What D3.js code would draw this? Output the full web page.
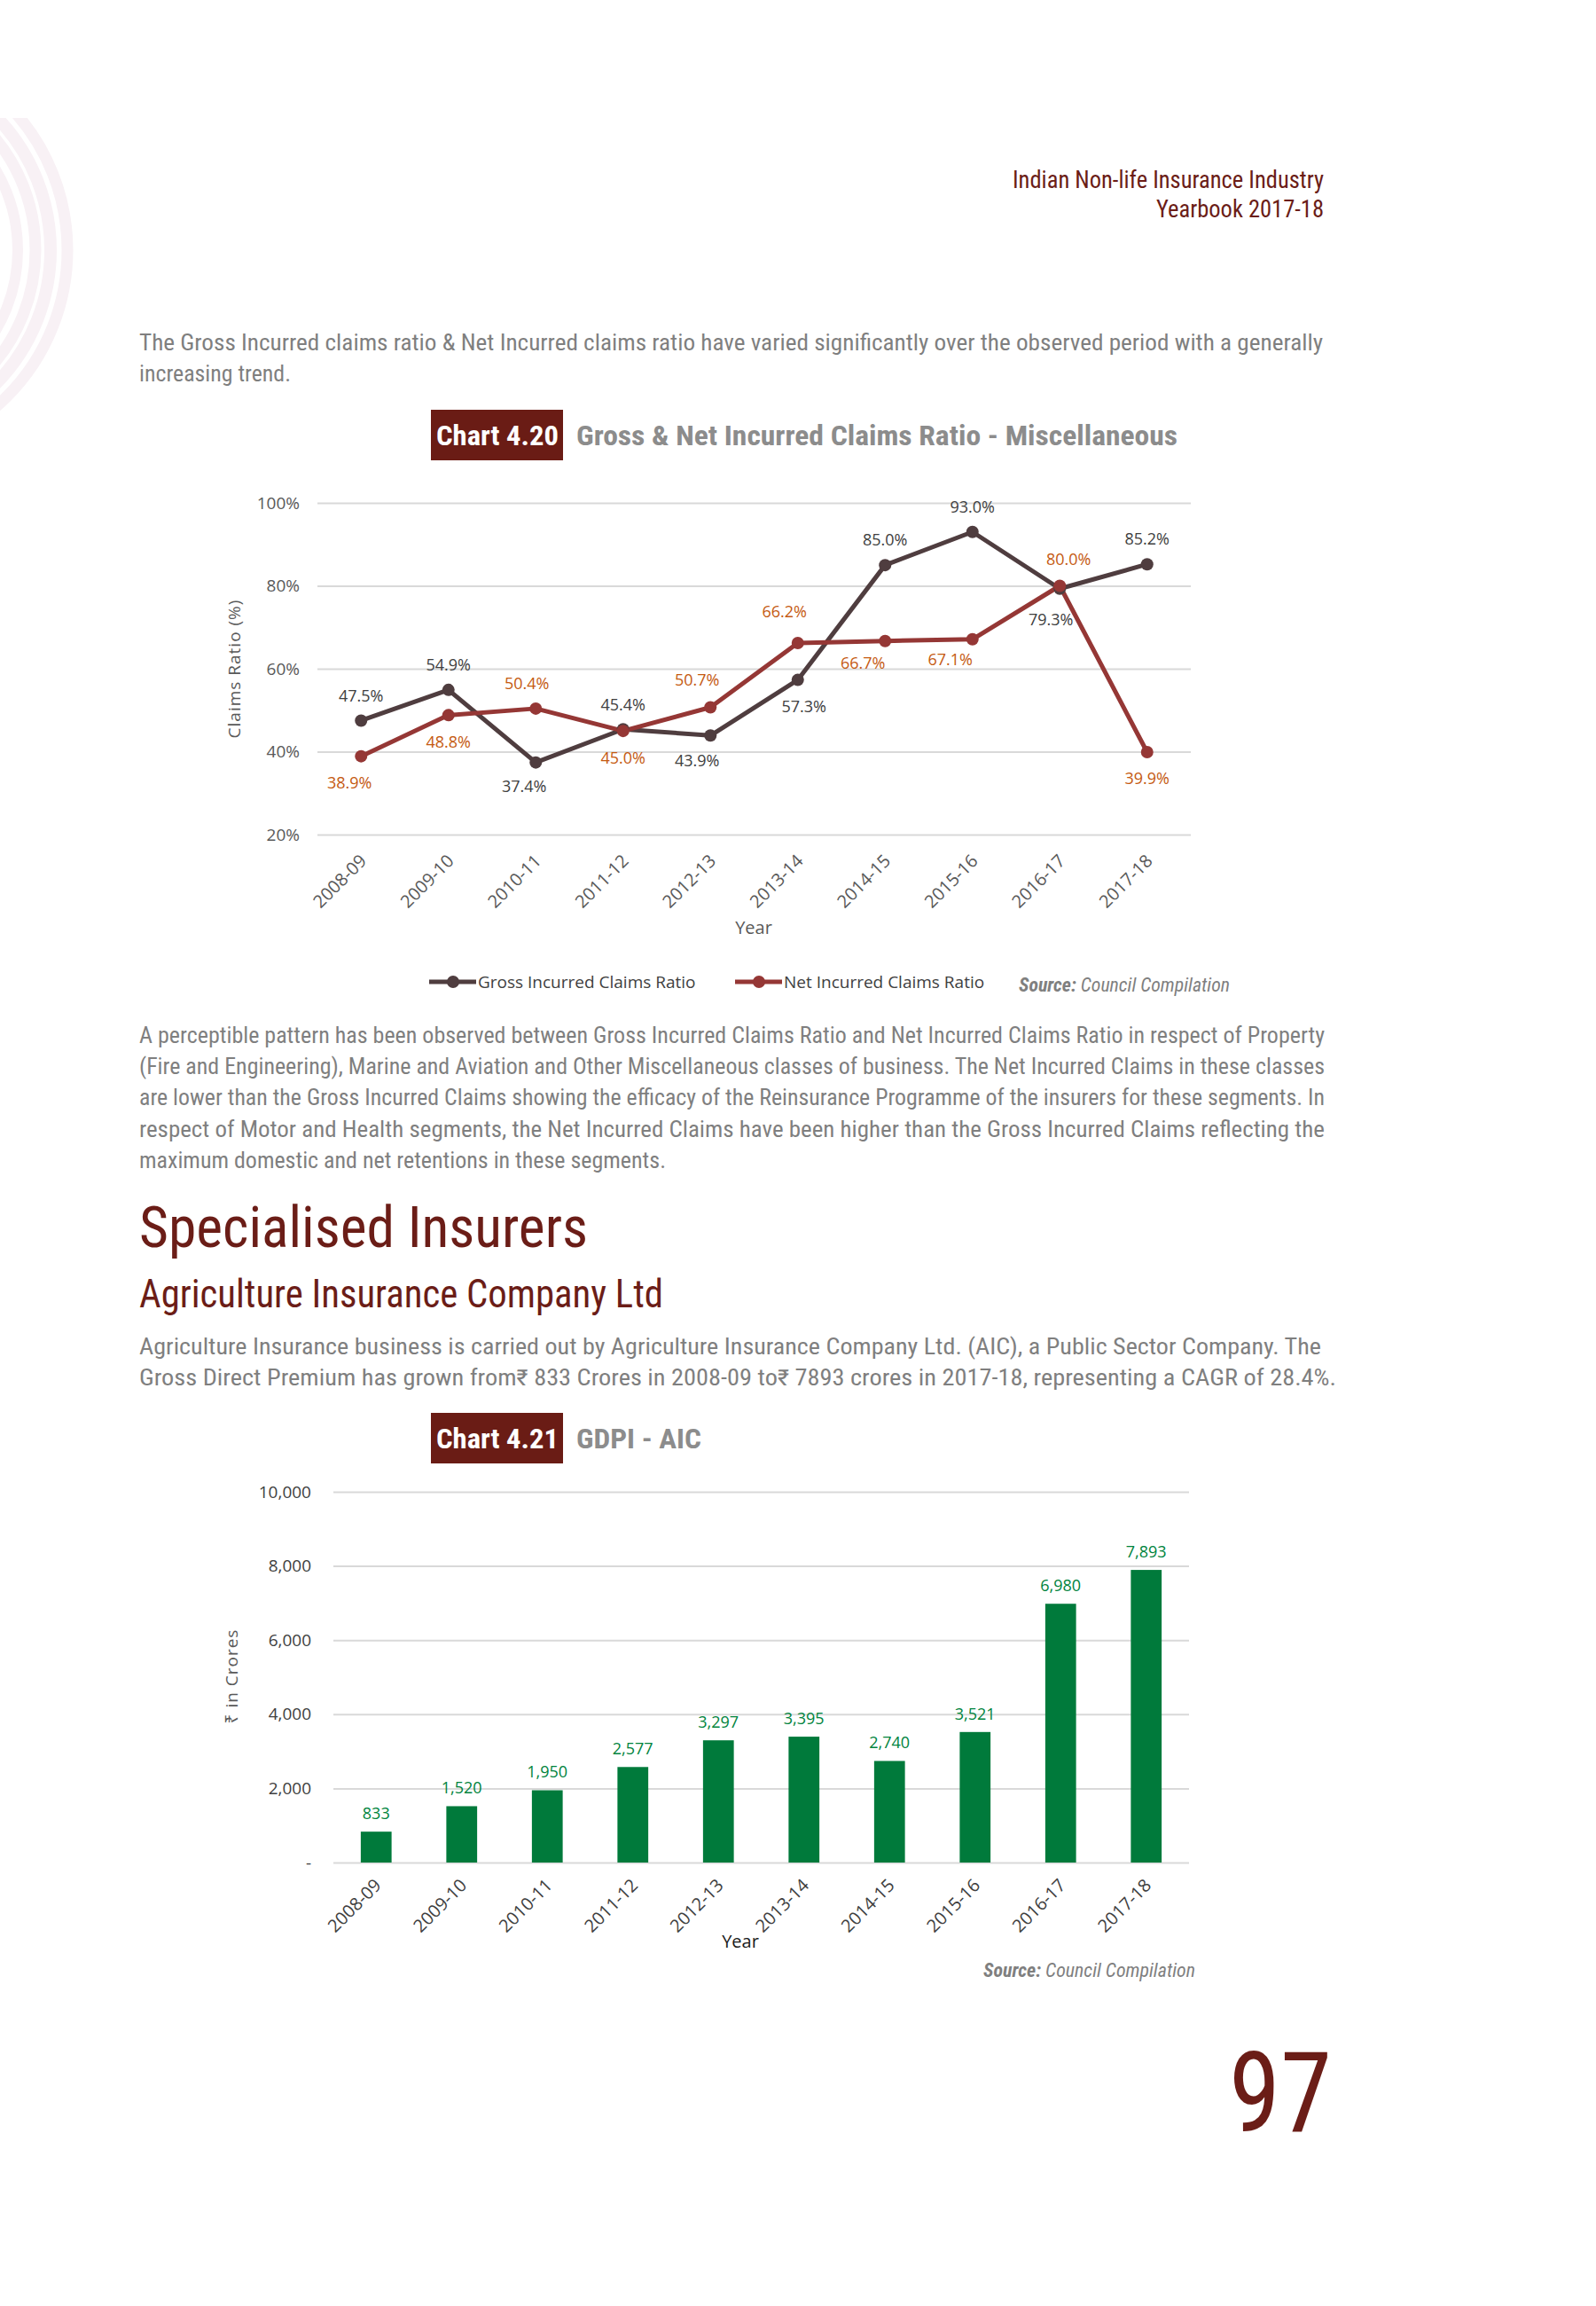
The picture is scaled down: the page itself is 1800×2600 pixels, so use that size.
<!DOCTYPE html>
<html><head><meta charset="utf-8">
<script src="https://cdn.jsdelivr.net/npm/d3@7/dist/d3.min.js"></script>
<style>
html,body{margin:0;padding:0;background:#fff;}
svg{display:block;}
</style></head>
<body>
<script>
// ---------- DATA ----------
const years = ["2008-09","2009-10","2010-11","2011-12","2012-13","2013-14","2014-15","2015-16","2016-17","2017-18"];
const grossRatio = [47.5, 54.9, 37.4, 45.4, 43.9, 57.3, 85.0, 93.0, 79.3, 85.2];
const netRatio   = [38.9, 48.8, 50.4, 45.0, 50.7, 66.2, 66.7, 67.1, 80.0, 39.9];
const ratioTicks = [20, 40, 60, 80, 100];
const gdpi = [833, 1520, 1950, 2577, 3297, 3395, 2740, 3521, 6980, 7893];
const gdpiTicks = [0, 2000, 4000, 6000, 8000, 10000];
const seriesNames = ["Gross Incurred Claims Ratio", "Net Incurred Claims Ratio"];

// label placement (layout only): [dx, dy] offsets from point
const grossLabelOff = [[0,-28],[0,-28],[-13,27],[0,-28],[-15,28],[7,30],[0,-28],[0,-28],[-10,35],[0,-28]];
const netLabelOff   = [[-13,30],[0,30],[-10,-28],[0,31],[-15,-31],[-15,-35],[-25,25],[-25,23],[10,-30],[0,30]];

const W = 1800, H = 2600;
const narrow = "'Liberation Sans Narrow','Roboto Condensed','Arial Narrow','Liberation Sans',sans-serif";
const chartFont = "'Open Sans','Noto Sans',sans-serif";
const red = "#6b1d17", grey = "#7f7f7f";

const svg = d3.select("body").append("svg").attr("width", W).attr("height", H);
svg.append("rect").attr("width", W).attr("height", H).attr("fill", "#fff");

// decorative rings top-left
const defs = svg.append("defs");
defs.append("clipPath").attr("id","decoClip").append("rect").attr("x",0).attr("y",133).attr("width",200).attr("height",400);
const deco = svg.append("g").attr("clip-path","url(#decoClip)");
[[234,13],[215,14],[198,13],[178,12]].forEach(([r,w])=>{
  deco.append("circle").attr("cx",-158).attr("cy",282).attr("r",r)
    .attr("fill","none").attr("stroke","#f8f1f5").attr("stroke-width",w);
});

// helper for text lines
function line(g, txt, x, y, opts){
  const t = g.append("text").attr("x", x).attr("y", y).text(txt)
    .attr("font-family", opts.font || narrow)
    .attr("font-size", opts.size)
    .attr("fill", opts.fill || grey)
    .attr("font-weight", opts.weight || "normal")
    .attr("font-style", opts.style || "normal")
    .attr("text-anchor", opts.anchor || "start");
  if (opts.len) t.attr("textLength", opts.len).attr("lengthAdjust", "spacingAndGlyphs");
  return t;
}

// header
line(svg, "Indian Non-life Insurance Industry", 1493, 212, {size:27, fill:red, anchor:"end", len:351});
line(svg, "Yearbook 2017-18", 1493, 245, {size:27, fill:red, anchor:"end", len:189});

// paragraph 1
line(svg, "The Gross Incurred claims ratio & Net Incurred claims ratio have varied significantly over the observed period with a generally", 157, 395, {size:25, len:1335});
line(svg, "increasing trend.", 157, 430, {size:25, len:171});

// chart title helper
function chartTitle(y0, num, title, titleLen){
  svg.append("rect").attr("x",486).attr("y",y0).attr("width",149).attr("height",57).attr("fill","#6a1c15");
  line(svg, num, 492, y0+40, {size:32, fill:"#fff", weight:"bold", len:138});
  line(svg, title, 650, y0+40, {size:32, fill:"#8c8c8c", weight:"bold", len:titleLen});
}
chartTitle(462, "Chart 4.20", "Gross & Net Incurred Claims Ratio - Miscellaneous", 678);

// ---------- CHART 1 ----------
const c1 = svg.append("g");
const x1 = d3.scalePoint().domain(years).range([358,1343]).padding(0.5);
const y1 = d3.scaleLinear().domain([20,100]).range([941,567]);

const yAxis1 = d3.axisLeft(y1).tickValues(ratioTicks).tickSize(-(1343-358)).tickFormat(d=>d+"%");
const ga1 = c1.append("g").attr("transform","translate(358,0)").call(yAxis1);
ga1.select(".domain").remove();
ga1.selectAll(".tick line").attr("stroke","#d9d9d9").attr("stroke-width",2);
ga1.selectAll(".tick text").attr("x",-20).attr("font-family",chartFont).attr("font-size",19).attr("fill","#595959");

const xAxis1 = d3.axisBottom(x1).tickSize(0);
const gx1 = c1.append("g").attr("transform","translate(0,941)").call(xAxis1);
gx1.select(".domain").remove();
gx1.selectAll(".tick text").attr("font-family",chartFont).attr("font-size",20).attr("fill","#595959")
  .attr("text-anchor","end").attr("transform","translate(2,26) rotate(-45)").attr("dy","0.35em").attr("y",0);

c1.append("text").attr("x",850).attr("y",1053).attr("text-anchor","middle").attr("font-family",chartFont)
  .attr("font-size",20).attr("fill","#595959").text("Year");
c1.append("text").attr("transform","translate(271,754) rotate(-90)").attr("text-anchor","middle")
  .attr("font-family",chartFont).attr("font-size",19).attr("letter-spacing",1).attr("fill","#595959").text("Claims Ratio (%)");

const grossCol = "#4f3d3f", netCol = "#953735";
const lineGen = d3.line().x((d,i)=>x1(years[i])).y(d=>y1(d));
[[grossRatio,grossCol],[netRatio,netCol]].forEach(([arr,col])=>{
  c1.append("path").datum(arr).attr("d",lineGen).attr("fill","none").attr("stroke",col)
    .attr("stroke-width",5).attr("stroke-linejoin","round");
});
[[grossRatio,grossCol],[netRatio,netCol]].forEach(([arr,col])=>{
  c1.selectAll(null).data(arr).enter().append("circle")
    .attr("cx",(d,i)=>x1(years[i])).attr("cy",d=>y1(d)).attr("r",7).attr("fill",col);
});
function ratioLabels(arr, offs, col){
  c1.selectAll(null).data(arr).enter().append("text")
    .attr("x",(d,i)=>x1(years[i])+offs[i][0]).attr("y",(d,i)=>y1(d)+offs[i][1])
    .attr("dy","0.35em").attr("text-anchor","middle")
    .attr("font-family",chartFont).attr("font-size",18).attr("fill",col)
    .text(d=>d.toFixed(1)+"%");
}
ratioLabels(grossRatio, grossLabelOff, "#404040");
ratioLabels(netRatio, netLabelOff, "#c55a11");

// legend
const leg = c1.append("g");
[[484, grossCol, seriesNames[0]],[829, netCol, seriesNames[1]]].forEach(([lx,col,name])=>{
  leg.append("line").attr("x1",lx).attr("x2",lx+53).attr("y1",1107).attr("y2",1107).attr("stroke",col).attr("stroke-width",5);
  leg.append("circle").attr("cx",lx+27).attr("cy",1107).attr("r",7).attr("fill",col);
  leg.append("text").attr("x",lx+55).attr("y",1107).attr("dy","0.35em").attr("font-family",chartFont)
    .attr("font-size",19).attr("fill","#404040").text(name);
});

function source(x, y, len){
  const t = svg.append("text").attr("x",x).attr("y",y).attr("font-family",narrow).attr("font-size",22)
    .attr("fill",grey).attr("font-style","italic").attr("textLength",len).attr("lengthAdjust","spacingAndGlyphs");
  t.append("tspan").attr("font-weight","bold").text("Source:");
  t.append("tspan").text(" Council Compilation");
}
source(1149, 1118, 238);

// paragraph 2
const p2 = [
 ["A perceptible pattern has been observed between Gross Incurred Claims Ratio and Net Incurred Claims Ratio in respect of Property",1337],
 ["(Fire and Engineering), Marine and Aviation and Other Miscellaneous classes of business. The Net Incurred Claims in these classes",1337],
 ["are lower than the Gross Incurred Claims showing the efficacy of the Reinsurance Programme of the insurers for these segments. In",1337],
 ["respect of Motor and Health segments, the Net Incurred Claims have been higher than the Gross Incurred Claims reflecting the",1337],
 ["maximum domestic and net retentions in these segments.",594]];
p2.forEach(([t,l],i)=>line(svg, t, 157, 1176+i*35.2, {size:25, len:l}));

line(svg, "Specialised Insurers", 157, 1406, {size:64, fill:red, len:506});
line(svg, "Agriculture Insurance Company Ltd", 157, 1474, {size:44, fill:red, len:591});
line(svg, "Agriculture Insurance business is carried out by Agriculture Insurance Company Ltd. (AIC), a Public Sector Company. The", 157, 1527, {size:25, len:1333});
line(svg, "Gross Direct Premium has grown from\u20B9 833 Crores in 2008-09 to\u20B9 7893 crores in 2017-18, representing a CAGR of 28.4%.", 157, 1562, {size:25, len:1350});

chartTitle(1593, "Chart 4.21", "GDPI - AIC", 141);

// ---------- CHART 2 ----------
const c2 = svg.append("g");
const x2 = d3.scaleBand().domain(years).range([376,1341]).paddingInner(0.64).paddingOuter(0.32);
const y2 = d3.scaleLinear().domain([0,10000]).range([2100,1682]);
const yAxis2 = d3.axisLeft(y2).tickValues(gdpiTicks).tickSize(-(1341-376)).tickFormat(d=>d===0?"-":d3.format(",")(d));
const ga2 = c2.append("g").attr("transform","translate(376,0)").call(yAxis2);
ga2.select(".domain").remove();
ga2.selectAll(".tick line").attr("stroke","#d9d9d9").attr("stroke-width",2);
ga2.selectAll(".tick text").attr("x",-25).attr("font-family",chartFont).attr("font-size",19).attr("fill","#404040");

c2.selectAll(null).data(gdpi).enter().append("rect")
  .attr("x",(d,i)=>x2(years[i])).attr("width",x2.bandwidth())
  .attr("y",d=>y2(d)).attr("height",d=>y2(0)-y2(d)).attr("fill","#007a3b");
c2.selectAll(null).data(gdpi).enter().append("text")
  .attr("x",(d,i)=>x2(years[i])+x2.bandwidth()/2).attr("y",d=>y2(d)-14)
  .attr("text-anchor","middle").attr("font-family",chartFont).attr("font-size",18).attr("fill","#00843d")
  .text(d=>d3.format(",")(d));

const gx2 = c2.append("g").attr("transform","translate(0,2100)").call(d3.axisBottom(x2).tickSize(0));
gx2.select(".domain").remove();
gx2.selectAll(".tick text").attr("font-family",chartFont).attr("font-size",20).attr("fill","#404040")
  .attr("text-anchor","end").attr("transform","translate(2,22) rotate(-45)").attr("dy","0.35em").attr("y",0);
c2.append("text").attr("x",835).attr("y",2196).attr("text-anchor","middle").attr("font-family",chartFont)
  .attr("font-size",20).attr("fill","#1a1a1a").text("Year");
c2.append("text").attr("transform","translate(268,1890) rotate(-90)").attr("text-anchor","middle")
  .attr("font-family",chartFont).attr("font-size",19).attr("letter-spacing",1).attr("fill","#595959").text("\u20B9 in Crores");

source(1109, 2229, 239);

line(svg, "97", 1386, 2403, {size:126, fill:red, len:116});
</script>
</body></html>
